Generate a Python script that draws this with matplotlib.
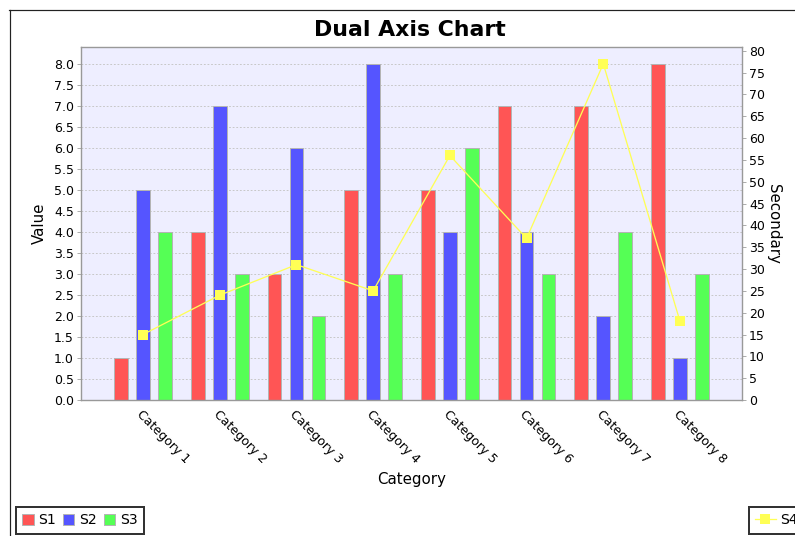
import matplotlib
matplotlib.use('Agg')
import matplotlib.pyplot as plt
import numpy as np
from matplotlib.lines import Line2D
from matplotlib.patches import Patch

categories = ['Category 1', 'Category 2', 'Category 3', 'Category 4',
              'Category 5', 'Category 6', 'Category 7', 'Category 8']
s1 = [1, 4, 3, 5, 5, 7, 7, 8]
s2 = [5, 7, 6, 8, 4, 4, 2, 1]
s3 = [4, 3, 2, 3, 6, 3, 4, 3]
s4 = [15, 24, 31, 25, 56, 37, 77, 18]

W, H = 795, 536
DPI = 72
plt.rcParams['font.family'] = 'DejaVu Sans'

fig = plt.figure(figsize=(W / DPI, H / DPI), dpi=DPI)
ax = fig.add_axes([81 / W, 1 - 400 / H, (742 - 81) / W, (400 - 47) / H])
ax.set_facecolor('#EEEEFF')

x = np.arange(len(categories))
bw = 0.18
off = 0.287
edge = '#B4B4B4'
ax.bar(x - off, s1, bw, color='#FF5555', edgecolor=edge, linewidth=1, zorder=2)
ax.bar(x, s2, bw, color='#5555FF', edgecolor=edge, linewidth=1, zorder=2)
ax.bar(x + off, s3, bw, color='#55FF55', edgecolor=edge, linewidth=1, zorder=2)

ax.set_xlim(-0.808, len(categories) - 1 + 0.808)
ax.set_ylim(0, 8.4)
ax.set_yticks(np.arange(0, 8.01, 0.5))
ax.set_yticklabels(['%.1f' % v for v in np.arange(0, 8.01, 0.5)])
ax.yaxis.grid(True, color='#C4C4C4', linestyle=(0, (2, 2)), linewidth=0.9, zorder=0)
ax.set_axisbelow(True)

ax.set_xticks(x)
ax.set_xticklabels(categories, rotation=-45, ha='left', va='top',
                   rotation_mode='anchor', fontsize=12.5)
ax.tick_params(axis='x', length=0, pad=8)
ax.tick_params(axis='y', length=4, color='#999999', labelsize=12.5, pad=3)
for sp in ax.spines.values():
    sp.set_color('#999999')
    sp.set_linewidth(1.2)

ax.set_xlabel('Category', fontsize=15, labelpad=6)
ax.set_ylabel('Value', fontsize=15, labelpad=7)

ax2 = ax.twinx()
ax2.plot(x, s4, color='#FFFF55', linewidth=1.3, marker='s', markersize=9.5,
         markerfacecolor='#FFFF55', markeredgewidth=0, zorder=3)
ax2.set_ylim(0, 80.85)
ax2.set_yticks(np.arange(0, 81, 5))
ax2.tick_params(axis='y', length=4, color='#999999', labelsize=12.5, pad=3)
for sp in ax2.spines.values():
    sp.set_color('#999999')
    sp.set_linewidth(1.2)
ax2.set_ylabel('Secondary', fontsize=15, rotation=-90, labelpad=16)

fig.text(409.5 / W, 1 - 29.5 / H, 'Dual Axis Chart', fontsize=22,
         fontweight='bold', ha='center', va='center')

# outer chart border (cropped on right and bottom)
fig.add_artist(Line2D([9 / W, 1.0], [1 - 9.5 / H, 1 - 9.5 / H], color='#222222',
                      linewidth=1.2, transform=fig.transFigure))
fig.add_artist(Line2D([9.5 / W, 9.5 / W], [0, 1 - 9.5 / H], color='#222222',
                      linewidth=1.2, transform=fig.transFigure))

handles = [Patch(facecolor='#FF5555', edgecolor=edge, label='S1'),
           Patch(facecolor='#5555FF', edgecolor=edge, label='S2'),
           Patch(facecolor='#55FF55', edgecolor=edge, label='S3')]
leg = fig.legend(handles=handles, ncol=3, loc='upper left',
                 bbox_to_anchor=(16 / W, 1 - 507 / H), fontsize=14,
                 frameon=True, fancybox=False, edgecolor='black',
                 handlelength=0.8, handleheight=0.8, handletextpad=0.35,
                 columnspacing=0.5, borderpad=0.45, borderaxespad=0)
leg.get_frame().set_linewidth(2)

h4 = [Line2D([0], [0], color='#FFFF55', marker='s', markersize=9.5,
             markeredgewidth=0, linewidth=1.3, label='S4')]
leg2 = fig.legend(handles=h4, loc='upper left',
                  bbox_to_anchor=(749 / W, 1 - 507 / H), fontsize=14,
                  frameon=True, fancybox=False, edgecolor='black',
                  handlelength=1.45, handletextpad=0.35, borderpad=0.45,
                  borderaxespad=0)
leg2.get_frame().set_linewidth(2)

fig.savefig('out.png', dpi=DPI)
